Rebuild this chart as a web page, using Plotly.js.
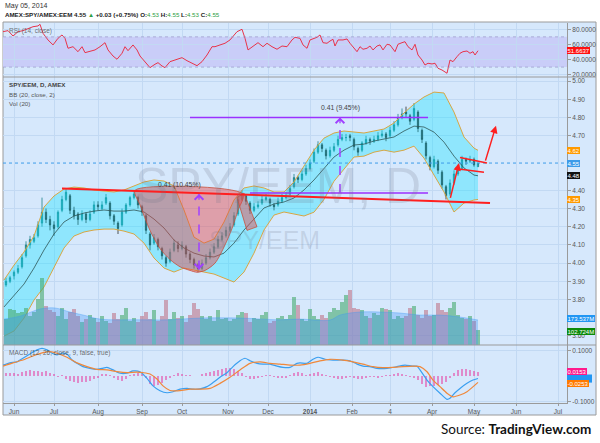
<!DOCTYPE html>
<html><head><meta charset="utf-8">
<script src="https://cdn.plot.ly/plotly-3.0.1.min.js"></script>
<style>html,body{margin:0;padding:0;background:#fff;}#chart{width:600px;height:443px;}</style>
</head><body><div id="chart"></div>
<script>
// ---------- DATA (trading-day index from Jun 3 2013) ----------
const days = [-4,-2,0,2,4,6,8,10,12,14,16,18,20,22,24,26,28,30,32,34,36,38,40,42,44,46,48,50,52,54,56,58,60,62,64,66,68,70,72,74,76,78,80,82,84,86,88,90,92,94,96,98,100,102,104,106,108,110,112,114,116,118,120,122,124,126,128,130,132,134,136,138,140,142,144,146,148,150,152,154,156,158,160,162,164,166,168,170,172,174,176,178,180,182,184,186,188,190,192,194,196,198,200,202,204,206,208,210,212,214,216,218,220,222,224,226,228,230,232];
const openP = [3.88,3.90,3.93,3.95,3.98,4.04,4.10,4.12,4.15,4.22,4.28,4.24,4.21,4.20,4.29,4.35,4.37,4.29,4.27,4.24,4.27,4.24,4.28,4.32,4.30,4.33,4.33,4.26,4.22,4.21,4.28,4.32,4.36,4.36,4.31,4.26,4.16,4.11,4.13,4.08,4.03,4.01,4.07,4.10,4.08,4.09,4.05,4.02,3.99,3.97,4.00,4.03,4.06,4.09,4.13,4.15,4.18,4.21,4.27,4.35,4.37,4.33,4.29,4.31,4.33,4.35,4.35,4.32,4.32,4.34,4.36,4.38,4.42,4.47,4.46,4.49,4.52,4.56,4.61,4.65,4.62,4.59,4.62,4.65,4.68,4.69,4.70,4.68,4.63,4.62,4.66,4.68,4.67,4.68,4.70,4.71,4.70,4.73,4.76,4.80,4.83,4.81,4.79,4.83,4.73,4.66,4.58,4.53,4.56,4.50,4.42,4.38,4.44,4.49,4.52,4.57,4.56,4.57,4.53];
const highP = [3.92,3.93,3.96,3.99,4.05,4.12,4.15,4.16,4.23,4.36,4.30,4.26,4.23,4.29,4.37,4.41,4.38,4.31,4.28,4.29,4.28,4.29,4.34,4.34,4.34,4.38,4.34,4.27,4.23,4.30,4.33,4.37,4.40,4.37,4.32,4.27,4.17,4.16,4.14,4.09,4.04,4.08,4.13,4.12,4.12,4.10,4.06,4.03,4.00,4.02,4.05,4.08,4.11,4.15,4.17,4.20,4.22,4.28,4.37,4.40,4.38,4.34,4.33,4.34,4.37,4.38,4.36,4.33,4.36,4.38,4.39,4.43,4.49,4.48,4.51,4.54,4.57,4.63,4.67,4.66,4.63,4.64,4.66,4.70,4.71,4.71,4.71,4.69,4.64,4.67,4.70,4.69,4.70,4.72,4.73,4.72,4.75,4.78,4.82,4.85,4.86,4.82,4.88,4.84,4.74,4.67,4.59,4.59,4.57,4.51,4.43,4.46,4.51,4.54,4.59,4.58,4.59,4.58,4.55];
const lowP = [3.87,3.89,3.91,3.94,3.97,4.03,4.08,4.11,4.14,4.20,4.22,4.18,4.15,4.19,4.28,4.34,4.27,4.24,4.21,4.23,4.22,4.23,4.27,4.29,4.29,4.32,4.24,4.21,4.16,4.20,4.27,4.31,4.35,4.30,4.26,4.16,4.07,4.10,4.07,4.02,3.98,4.00,4.06,4.06,4.07,4.03,4.00,3.97,3.95,3.96,3.99,4.02,4.05,4.08,4.12,4.14,4.17,4.20,4.26,4.34,4.32,4.27,4.28,4.30,4.32,4.34,4.31,4.29,4.31,4.33,4.35,4.37,4.41,4.44,4.45,4.48,4.51,4.55,4.60,4.61,4.57,4.58,4.61,4.64,4.67,4.67,4.67,4.62,4.59,4.61,4.65,4.65,4.66,4.67,4.69,4.67,4.69,4.72,4.75,4.79,4.80,4.76,4.78,4.72,4.66,4.57,4.51,4.52,4.49,4.41,4.35,4.37,4.43,4.48,4.51,4.54,4.55,4.53,4.53];
const closeP = [3.90,3.92,3.95,3.97,4.03,4.10,4.13,4.14,4.21,4.28,4.24,4.21,4.19,4.28,4.35,4.39,4.29,4.26,4.24,4.27,4.24,4.27,4.32,4.31,4.32,4.36,4.26,4.23,4.19,4.28,4.32,4.36,4.38,4.32,4.28,4.18,4.10,4.14,4.09,4.04,4.00,4.06,4.11,4.08,4.10,4.05,4.02,3.99,3.97,4.00,4.03,4.06,4.09,4.13,4.15,4.18,4.20,4.26,4.35,4.38,4.34,4.29,4.31,4.32,4.35,4.36,4.33,4.31,4.34,4.36,4.37,4.41,4.47,4.46,4.49,4.52,4.55,4.61,4.65,4.63,4.59,4.62,4.64,4.68,4.69,4.69,4.69,4.64,4.61,4.66,4.68,4.67,4.68,4.70,4.71,4.69,4.73,4.76,4.80,4.82,4.82,4.78,4.85,4.74,4.68,4.59,4.53,4.57,4.51,4.43,4.37,4.44,4.49,4.52,4.57,4.56,4.57,4.54,4.55];
const volumeM = [180,250,240,220,230,260,200,230,320,465,270,240,230,200,260,180,230,250,200,160,180,210,190,160,200,170,150,220,180,210,260,170,190,160,200,230,180,240,170,200,310,180,230,190,200,160,210,290,250,200,180,200,170,240,180,190,170,180,210,230,220,160,190,180,210,230,150,170,190,200,180,210,330,280,180,170,250,200,180,210,190,230,260,240,300,350,380,260,250,240,200,190,220,210,260,250,240,180,200,190,200,260,270,210,190,240,200,210,290,240,230,260,300,210,190,180,200,170,103];
const macdHist = [0.012,0.012,0.012,0.008,0.016,0.020,0.024,0.020,0.020,0.016,0.020,0.012,0.008,-0.004,0.004,-0.012,-0.020,-0.024,-0.028,-0.024,-0.024,-0.020,-0.012,-0.008,0.008,0.008,0.004,-0.008,-0.016,-0.020,-0.012,0.004,0.008,0.012,0.008,-0.008,-0.032,-0.039,-0.035,-0.028,-0.016,-0.008,0.004,0.012,0.008,0.004,0.004,0.002,0.002,0.008,0.012,0.016,0.020,0.024,0.028,0.032,0.032,0.028,0.020,0.012,-0.004,-0.012,-0.012,-0.008,-0.004,0.004,0.004,-0.004,-0.008,-0.008,-0.008,0.004,0.012,0.016,0.012,0.004,0.008,0.012,0.016,0.008,0.004,-0.004,-0.008,-0.012,-0.012,-0.008,-0.004,-0.008,-0.012,-0.012,-0.008,-0.004,-0.004,-0.008,-0.004,0.004,0.004,0.008,0.012,0.008,0.004,-0.004,-0.008,-0.016,-0.032,-0.043,-0.039,-0.039,-0.035,-0.032,-0.024,-0.008,0.012,0.024,0.028,0.028,0.024,0.020,0.0153];

const bbDays = [-5,0,5,10,15,20,25,30,35,40,45,50,55,60,65,70,75,80,85,90,95,100,105,110,115,120,125,130,135,140,145,150,155,160,165,170,175,180,185,190,195,200,205,210,215,220,225,230,232];
const bbUpper = [3.907,3.989,4.061,4.149,4.308,4.369,4.407,4.418,4.413,4.402,4.396,4.391,4.402,4.424,4.446,4.457,4.451,4.424,4.292,4.143,4.110,4.132,4.226,4.347,4.413,4.424,4.413,4.391,4.391,4.446,4.534,4.621,4.687,4.715,4.726,4.720,4.715,4.726,4.737,4.770,4.825,4.874,4.913,4.940,4.935,4.830,4.693,4.632,4.62];
const bbMid = [3.759,3.819,3.885,3.973,4.072,4.160,4.226,4.259,4.275,4.286,4.292,4.286,4.286,4.292,4.281,4.242,4.193,4.127,4.083,4.055,4.039,4.034,4.055,4.110,4.182,4.242,4.303,4.325,4.336,4.358,4.402,4.457,4.523,4.583,4.621,4.649,4.654,4.671,4.682,4.693,4.726,4.753,4.748,4.720,4.665,4.588,4.523,4.484,4.48];
const bbLower = [3.599,3.627,3.698,3.797,3.869,3.973,4.083,4.149,4.171,4.182,4.187,4.187,4.176,4.160,4.110,4.028,3.973,3.951,3.973,3.962,3.951,3.940,3.918,3.896,3.951,4.055,4.182,4.264,4.281,4.270,4.259,4.280,4.350,4.450,4.517,4.583,4.588,4.610,4.621,4.610,4.621,4.643,4.577,4.484,4.391,4.281,4.330,4.347,4.35];

const volMaDays = [-5,3,13,20.5,28,35.5,43,63,78,93,113,133,143,158,163,173,183,193,203,213,223,232];
const volMaM = [180,200,250,257,229,205,180,175,175,187,187,175,180,173,208,229,229,222,208,208,194,173.5];

const rsiDays = [-5.5,-3,-0.5,2,4.5,7,9.5,12,13,14.5,17,19.5,22,24,25.5,27,29.5,32,34,35.5,38,40.5,43,45.5,47,49.5,51.5,54,55.5,57,59.5,61.5,63,65.5,68,70.5,72,74,75.5,78,80.5,84,86.5,89,91.5,94,96.5,99,100.5,103,105.5,108,109.5,111.5,114,115.5,117,119.5,122,124.5,126.5,129,131.5,134,136.5,139,140.5,143,144.5,146.5,148,151.5,153,154.5,156.5,158,159.5,160.5,162,164.5,166.5,168,169.5,171.5,173,174.5,176.5,178,179.5,181.5,183,184.5,186.5,188,190.5,192,194,195.5,197,199,200.5,202,204,205.5,207,209,210.5,212,214,215.5,216.5,218,219.5,221.5,223,224.5,226.5,228,229.5,230.5,232];
const rsiVal = [76.8,78.2,71.1,76.8,78.2,81.3,83.4,84.4,86.6,74.7,65.9,59.3,68.1,72.5,68.1,54.9,57.0,50.4,57.0,49.1,50.4,52.7,57.0,62.3,52.7,44.7,40.4,48.3,57.0,51.7,59.3,52.7,44.7,37.2,29.3,33.8,35.9,31.5,29.3,37.2,39.4,42.5,38.5,35.1,31.9,37.2,46.0,57.0,57.0,59.3,61.5,65.9,70.2,76.8,80.0,68.1,52.7,57.0,62.3,57.0,61.5,57.0,53.6,57.9,57.0,65.9,69.4,68.0,59.3,54.9,65.9,69.4,72.5,62.3,61.5,64.5,66.8,57.9,65.9,65.9,67.2,61.5,57.0,50.4,57.0,53.6,54.9,57.9,52.7,57.9,59.3,52.7,60.2,59.3,50.4,60.2,62.3,63.6,57.0,52.7,60.2,46.0,39.4,32.8,35.1,34.2,35.1,28.5,26.2,24.0,21.9,39.4,37.2,43.8,48.3,50.4,51.3,48.3,50.4,46.0,51.66];

const macdDays = [-5.5,-2,1.5,4.5,8,11.5,14,16.5,19,21.5,24,26.5,29,31.5,34.5,38,41.5,44,46.5,49.5,53,56.5,59.5,63,66.5,69.5,73,76.5,79.5,83,86.5,89.5,93,96.5,99.5,103,106.5,109.5,113,115.5,118,121.5,124.5,128,131.5,134.5,138,141.5,143,146.5,149.5,152,155.5,159.5,164.5,168,171.5,174.5,178,181.5,186.5,191.5,195.5,199,201.5,203,206.5,209.5,213,216.5,218,220.5,223,226.5,229.5,232];
const macdVal = [0.043,0.052,0.056,0.070,0.087,0.103,0.109,0.103,0.090,0.083,0.090,0.087,0.063,0.050,0.037,0.030,0.026,0.030,0.034,0.024,0.011,0.011,0.020,0.017,-0.009,-0.039,-0.058,-0.066,-0.062,-0.052,-0.049,-0.052,-0.051,-0.042,-0.026,-0.005,0.013,0.037,0.060,0.070,0.060,0.050,0.047,0.047,0.039,0.034,0.034,0.050,0.052,0.050,0.066,0.074,0.066,0.063,0.063,0.060,0.047,0.039,0.037,0.030,0.030,0.037,0.043,0.039,0.039,0.024,-0.016,-0.042,-0.068,-0.092,-0.088,-0.066,-0.049,-0.029,-0.016,-0.0100];
const sigDays = [-5.5,-0.5,4.5,9.5,14.5,18,21.5,26.5,31.5,36.5,41.5,46.5,51.5,56.5,61.5,64.5,68,71.5,74.5,78,83,88,93,98,103,108,113,118,123,128,133,138,143,148,153,158,164.5,169.5,174.5,179.5,184.5,189.5,194.5,199.5,203,206.5,209.5,213,216.5,219.5,223,226.5,232];
const sigVal = [0.039,0.052,0.063,0.079,0.092,0.096,0.090,0.074,0.052,0.037,0.026,0.024,0.017,0.013,0.015,0.013,0.008,-0.012,-0.039,-0.057,-0.058,-0.052,-0.052,-0.049,-0.029,-0.005,0.024,0.050,0.056,0.050,0.047,0.043,0.043,0.050,0.060,0.066,0.063,0.056,0.047,0.037,0.033,0.034,0.037,0.039,0.037,0.017,-0.016,-0.042,-0.068,-0.082,-0.075,-0.062,-0.0253];

// axis ticks (price ticks hidden behind value boxes in the original are left out)
const monthTicks = [0,20,42,64,84,107,127,148,169,188,209,230,251,272];
const monthLabels = ['Jun','Jul','Aug','Sep','Oct','Nov','Dec','<b>2014</b>','Feb','4','Apr','May','Jun','Jul'];
const priceTicks = [3.6,3.8,3.9,4.0,4.1,4.2,4.3,4.4,4.7,4.8,4.9,5.0];
const rsiTicks = [20,40,60,80];
const rsiTickText = ['20.0000','40.0000','60.0000','80.0000'];
const macdTicks = [-0.1,0.1];
const macdTickText = ['-0.1000','0.1000'];

// drawings (data coordinates)
const resistDays = [24,238], resistPrice = [4.41,4.33];
const cupDays = [60.5,63,68,73,78,83,88,91.5,95.5,100.5,105.5,109,112,114.5,60.5];
const cupPrice = [4.40,4.32,4.18,4.08,4.02,3.98,3.96,3.95,3.96,4.00,4.10,4.19,4.29,4.38,4.40];
const handleDays = [111.5,115,121.5,116.5,111.5];
const handlePrice = [4.36,4.385,4.20,4.18,4.36];
const measure1 = {day:92.5, from:3.965, to:4.38, labelDay:82.5, labelP:4.43, label:'0.41 (10.45%)'};
const measure2 = {day:163, from:4.385, to:4.80, topStart:88, botStart:118, end:207, labelDay:163, labelP:4.85, label:'0.41 (9.45%)'};
const arrow1 = {fromDay:218, fromP:4.35, toDay:222.5, toP:4.55};
const arrow2 = {fromDay:235.5, fromP:4.555, toDay:241, toP:4.755};
const pennantUp = {d0:223, p0:4.58, d1:236.5, p1:4.55};
const pennantLo = {d0:220.5, p0:4.52, d1:235, p1:4.50};

const last = {price:4.55, bbU:4.62, bbM:4.48, bbL:4.35, rsi:51.6637, volMa:173.537, vol:102.724, hist:0.0153, macd:-0.0100, signal:-0.0253};

// ---------- LAYOUT HELPERS ----------
const W=600,H=443,ML=3,MR=33,MT=23,MB=40;
const PW=W-ML-MR, PH=H-MT-MB;
const PX=p=>(p-ML)/PW, PY=p=>(H-MB-p)/PH;
const BG='#d6e8fc', GRID='#c2d9f3', AX='#9a9a9a';
const FONT='Liberation Sans, Arial, sans-serif';

const volColors = closeP.map((c,i)=> c>=openP[i] ? 'rgba(70,170,110,0.6)' : 'rgba(190,105,125,0.55)');

const traces = [
  {type:'scatter',mode:'lines',x:bbDays,y:bbLower,xaxis:'x',yaxis:'y',line:{color:'#d8a642',width:1},hoverinfo:'skip'},
  {type:'scatter',mode:'lines',x:bbDays,y:bbUpper,xaxis:'x',yaxis:'y',line:{color:'#d8a642',width:1},fill:'tonexty',fillcolor:'rgba(0,228,255,0.33)',hoverinfo:'skip'},
  {type:'scatter',mode:'lines',x:bbDays,y:bbMid,xaxis:'x',yaxis:'y',line:{color:'#2e5656',width:0.8},hoverinfo:'skip'},
  {type:'scatter',mode:'lines',x:cupDays,y:cupPrice,xaxis:'x',yaxis:'y',fill:'toself',fillcolor:'rgba(232,70,70,0.45)',line:{color:'rgba(200,80,60,0.8)',width:1,shape:'spline',smoothing:0.8},hoverinfo:'skip'},
  {type:'scatter',mode:'lines',x:handleDays,y:handlePrice,xaxis:'x',yaxis:'y',fill:'toself',fillcolor:'rgba(232,70,70,0.45)',line:{color:'rgba(200,80,60,0.8)',width:1},hoverinfo:'skip'},
  {type:'candlestick',x:days,open:openP,high:highP,low:lowP,close:closeP,xaxis:'x',yaxis:'y',whiskerwidth:0,
    increasing:{line:{color:'#1d8088',width:0.8},fillcolor:'#2aa0a6'},decreasing:{line:{color:'#2b2b2b',width:0.8},fillcolor:'#2b2b2b'},hoverinfo:'skip'},
  {type:'bar',x:days,y:volumeM,xaxis:'x',yaxis:'y4',width:1.7,marker:{color:volColors,line:{width:0}},hoverinfo:'skip'},
  {type:'scatter',mode:'lines',x:volMaDays,y:volMaM,xaxis:'x',yaxis:'y4',fill:'tozeroy',fillcolor:'rgba(60,150,245,0.33)',line:{color:'rgba(60,150,245,0.45)',width:0.8,shape:'spline'},hoverinfo:'skip'},
  {type:'scatter',mode:'lines',x:rsiDays,y:rsiVal,xaxis:'x',yaxis:'y2',line:{color:'#e8334a',width:1},hoverinfo:'skip'},
  {type:'bar',x:days,y:macdHist,xaxis:'x',yaxis:'y3',width:1.0,marker:{color:'rgba(232,60,160,0.55)',line:{width:0}},hoverinfo:'skip'},
  {type:'scatter',mode:'lines',x:macdDays,y:macdVal,xaxis:'x',yaxis:'y3',line:{color:'#3a9ff0',width:1.2,shape:'spline',smoothing:0.6},hoverinfo:'skip'},
  {type:'scatter',mode:'lines',x:sigDays,y:sigVal,xaxis:'x',yaxis:'y3',line:{color:'#f0883a',width:1.2,shape:'spline',smoothing:0.6},hoverinfo:'skip'}
];

const shapes = [
  {type:'rect',xref:'paper',yref:'paper',x0:0,x1:PX(596),y0:PY(415),y1:PY(22),fillcolor:BG,line:{color:AX,width:1},layer:'below'},
  {type:'rect',xref:'paper',yref:'y2',x0:0,x1:1,y0:30,y1:70,fillcolor:'#c9cdf8',line:{width:0},layer:'below'},
  {type:'line',xref:'paper',yref:'y2',x0:0,x1:1,y0:70,y1:70,line:{color:'#9a98c8',width:0.7,dash:'dot'}},
  {type:'line',xref:'paper',yref:'y2',x0:0,x1:1,y0:30,y1:30,line:{color:'#9a98c8',width:0.7,dash:'dot'}},
  {type:'line',xref:'paper',yref:'paper',x0:0,x1:PX(596),y0:PY(77),y1:PY(77),line:{color:AX,width:1}},
  {type:'line',xref:'paper',yref:'paper',x0:0,x1:PX(596),y0:PY(345),y1:PY(345),line:{color:AX,width:1}},
  {type:'line',xref:'paper',yref:'y',x0:0,x1:1,y0:last.price,y1:last.price,line:{color:'#3d9be9',width:1,dash:'dot'}},
  {type:'line',xref:'x',yref:'y',x0:resistDays[0],x1:resistDays[1],y0:resistPrice[0],y1:resistPrice[1],line:{color:'#ff1f1f',width:2}},
  {type:'line',xref:'x',yref:'y',x0:measure2.topStart,x1:measure2.end,y0:measure2.to,y1:measure2.to,line:{color:'#9b30ff',width:1.5}},
  {type:'line',xref:'x',yref:'y',x0:measure2.botStart,x1:measure2.end,y0:measure2.from,y1:measure2.from,line:{color:'#9b30ff',width:1.5}},
  {type:'line',xref:'x',yref:'y',x0:measure2.day,x1:measure2.day,y0:measure2.from,y1:measure2.to,line:{color:'#a040ff',width:1.5,dash:'dash'}},
  {type:'line',xref:'x',yref:'y',x0:measure1.day,x1:measure1.day,y0:measure1.from,y1:measure1.to,line:{color:'#a040ff',width:1.5,dash:'dash'}},
  {type:'line',xref:'x',yref:'y',x0:pennantUp.d0,x1:pennantUp.d1,y0:pennantUp.p0,y1:pennantUp.p1,line:{color:'#ff1f1f',width:1.5}},
  {type:'line',xref:'x',yref:'y',x0:pennantLo.d0,x1:pennantLo.d1,y0:pennantLo.p0,y1:pennantLo.p1,line:{color:'#ff1f1f',width:1.5}},
  // MACD line value box, mostly hidden behind the two other value boxes
  {type:'rect',xref:'paper',yref:'y3',x0:1,x1:PX(592),y0:last.macd-0.016,y1:last.macd+0.016,fillcolor:'#2196f3',line:{width:0}}
];

function box(text,yref,y,color){
  return {xref:'paper',yref:yref,x:1,y:y,xanchor:'left',yanchor:'middle',text:text,showarrow:false,
    bgcolor:color,borderpad:0.5,borderwidth:0,font:{family:FONT,size:6,color:'#fff'}};
}
function lbl(text,x,y,opts){
  return Object.assign({xref:'paper',yref:'paper',x:PX(x),y:PY(y),xanchor:'left',yanchor:'middle',text:text,showarrow:false,
    font:{family:FONT,size:6.5,color:'#555'}},opts||{});
}
const G='#2ea043';
const annotations = [
  lbl('May 05, 2014',3,6.5,{font:{family:FONT,size:7,color:'#333'}}),
  lbl('<b>AMEX:SPY/AMEX:EEM 4.55</b> <span style="color:'+G+'">▲</span> <b>+0.03 (+0.75%)</b> <b>O:</b><span style="color:'+G+'">4.53</span> <b>H:</b><span style="color:'+G+'">4.55</span> <b>L:</b><span style="color:'+G+'">4.53</span> <b>C:</b><span style="color:'+G+'">4.55</span>',3,15,{font:{family:FONT,size:6.2,color:'#222'}}),
  lbl('RSI (14, close)',7,31,{font:{family:FONT,size:6.5,color:'rgba(80,80,80,0.8)'}}),
  lbl('<b>SPY/EEM, D, AMEX</b>',7,85,{font:{family:FONT,size:6.2,color:'#444'}}),
  lbl('BB (20, close, 2)',7,94,{font:{family:FONT,size:6.2,color:'#555'}}),
  lbl('Vol (20)',7,103,{font:{family:FONT,size:6.2,color:'#555'}}),
  lbl('MACD (12, 26, close, 9, false, true)',7,353,{font:{family:FONT,size:6.5,color:'rgba(80,80,80,0.85)'}}),
  {xref:'paper',yref:'paper',x:PX(278),y:PY(186),text:'SPY/EEM, D',showarrow:false,xanchor:'center',yanchor:'middle',
    font:{family:FONT,size:50,color:'rgba(110,115,135,0.2)'}},
  {xref:'paper',yref:'paper',x:PX(264),y:PY(240),text:'SPY/EEM',showarrow:false,xanchor:'center',yanchor:'middle',
    font:{family:FONT,size:25,color:'rgba(110,115,135,0.2)'}},
  {xref:'x',yref:'y',x:measure1.labelDay,y:measure1.labelP,text:measure1.label,showarrow:false,font:{family:FONT,size:6.8,color:'#444'}},
  {xref:'x',yref:'y',x:measure2.labelDay,y:measure2.labelP,text:measure2.label,showarrow:false,font:{family:FONT,size:6.8,color:'#444'}},
  {xref:'x',yref:'y',axref:'x',ayref:'y',x:measure2.day,y:measure2.to,ax:measure2.day,ay:measure2.to-0.04,text:'',showarrow:true,arrowhead:4,arrowsize:1.3,arrowwidth:1.3,arrowcolor:'#a040ff',standoff:0},
  {xref:'x',yref:'y',axref:'x',ayref:'y',x:measure1.day,y:measure1.to,ax:measure1.day,ay:measure1.to-0.04,text:'',showarrow:true,arrowhead:4,arrowsize:1.3,arrowwidth:1.3,arrowcolor:'#a040ff',standoff:0},
  {xref:'x',yref:'y',axref:'x',ayref:'y',x:measure1.day,y:measure1.from,ax:measure1.day,ay:measure1.from+0.04,text:'',showarrow:true,arrowhead:4,arrowsize:1.3,arrowwidth:1.3,arrowcolor:'#a040ff',standoff:0},
  {xref:'x',yref:'y',axref:'x',ayref:'y',x:arrow1.toDay,y:arrow1.toP,ax:arrow1.fromDay,ay:arrow1.fromP,text:'',showarrow:true,arrowhead:2,arrowsize:1,arrowwidth:1.5,arrowcolor:'#ff1f1f',standoff:0},
  {xref:'x',yref:'y',axref:'x',ayref:'y',x:arrow2.toDay,y:arrow2.toP,ax:arrow2.fromDay,ay:arrow2.fromP,text:'',showarrow:true,arrowhead:2,arrowsize:1,arrowwidth:1.5,arrowcolor:'#ff1f1f',standoff:0},
  box(last.rsi.toFixed(4),'y2',last.rsi,'#ff1010'),
  box(last.bbU.toFixed(2),'y',last.bbU,'#ff9a00'),
  box(last.price.toFixed(2),'y',last.price,'#3d9be9'),
  box(last.bbM.toFixed(2),'y',last.bbM,'#111111'),
  box(last.bbL.toFixed(2),'y',last.bbL,'#ff9a00'),
  box(last.volMa.toFixed(3)+'M','y4',last.volMa+10,'#2196f3'),
  box(last.vol.toFixed(3)+'M','y4',last.vol-10,'#0a8a0a'),
  box(last.hist.toFixed(4),'y3',last.hist+0.001,'#ff1a8c'),
  box(last.signal.toFixed(4),'y3',last.signal-0.004,'#ff7a00'),
  {xref:'paper',yref:'paper',x:PX(593),y:PY(429),xanchor:'right',yanchor:'middle',showarrow:false,
    text:'Source: <b>TradingView.com</b>',font:{family:'Lato, Noto Sans, sans-serif',size:13.5,color:'#111'}}
];

const tickFont = {family:FONT,size:6.5,color:'#555'};
const yCommon = {side:'right',anchor:'x',showgrid:true,gridcolor:GRID,gridwidth:1,zeroline:false,showline:true,linecolor:AX,
  ticks:'outside',ticklen:3,tickcolor:AX,tickfont:tickFont,fixedrange:true,automargin:false};

const layout = {
  width:W,height:H,margin:{l:ML,r:MR,t:MT,b:MB,pad:0},
  paper_bgcolor:'#ffffff',plot_bgcolor:'rgba(0,0,0,0)',showlegend:false,hovermode:false,bargap:0,boxgap:0.55,
  font:{family:FONT},
  xaxis:{domain:[0,1],anchor:'y3',range:[-5.5,276.5],tickmode:'array',tickvals:monthTicks,ticktext:monthLabels,
    showgrid:true,gridcolor:GRID,zeroline:false,showline:true,linecolor:AX,ticks:'outside',ticklen:2,tickcolor:AX,
    tickfont:tickFont,rangeslider:{visible:false},fixedrange:true,automargin:false},
  yaxis:Object.assign({},yCommon,{domain:[0.1526,0.857],range:[3.550,5.021],tickmode:'array',tickvals:priceTicks,tickformat:'.2f'}),
  yaxis2:Object.assign({},yCommon,{domain:[0.859,1],range:[17.5,88.3],tickmode:'array',tickvals:rsiTicks,ticktext:rsiTickText}),
  yaxis3:Object.assign({},yCommon,{domain:[0,0.1526],range:[-0.1065,0.1223],tickmode:'array',tickvals:macdTicks,ticktext:macdTickText}),
  yaxis4:{overlaying:'y',anchor:'x',range:[0,1858],visible:false,showgrid:false,zeroline:false,fixedrange:true},
  shapes:shapes,annotations:annotations
};

Plotly.newPlot('chart',traces,layout,{staticPlot:true,displayModeBar:false});
</script></body></html>
